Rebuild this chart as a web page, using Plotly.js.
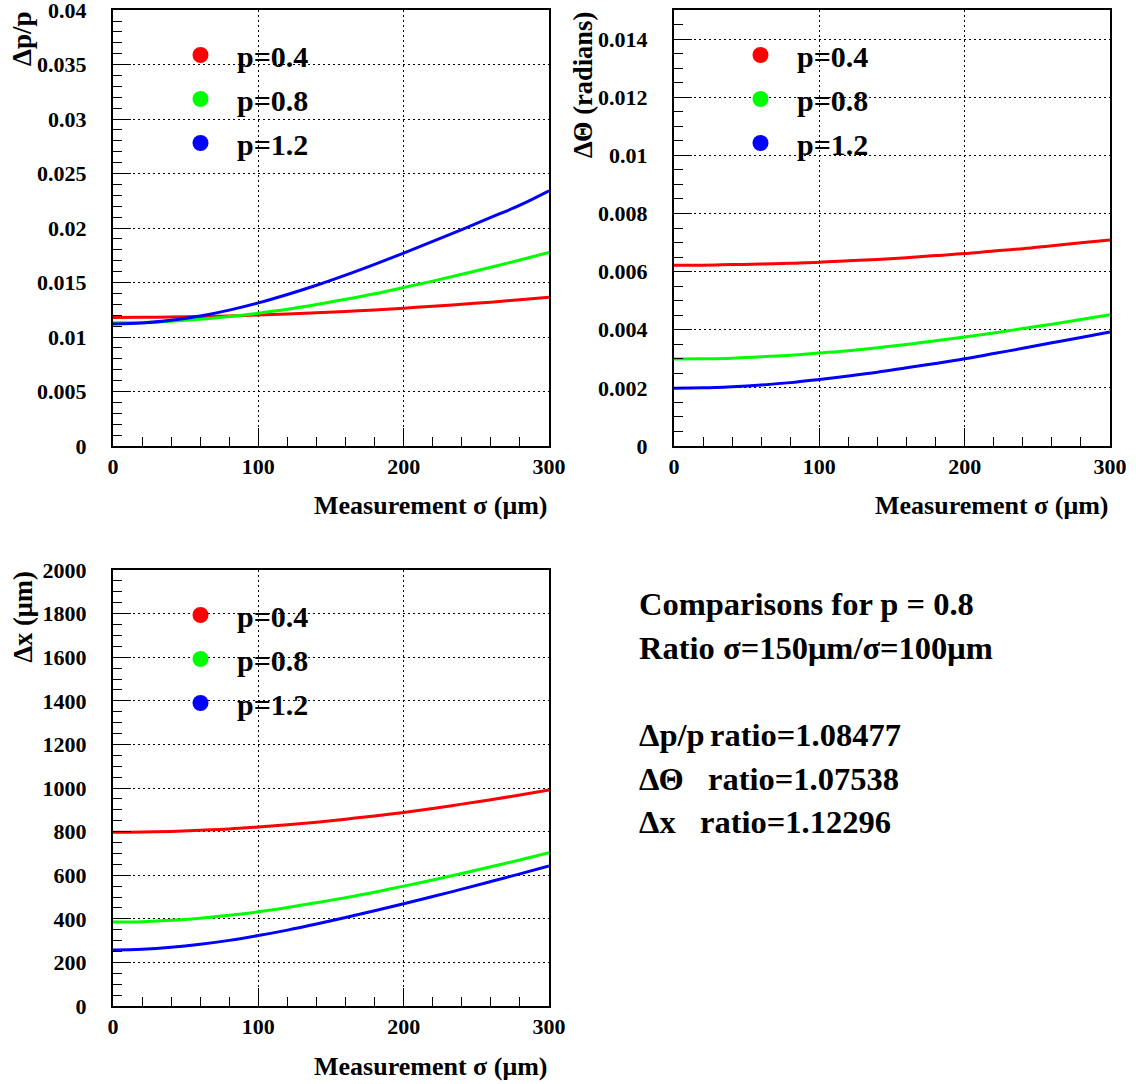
<!DOCTYPE html>
<html><head><meta charset="utf-8">
<script src="https://cdn.plot.ly/plotly-3.0.1.min.js"></script>
<style>html,body{margin:0;padding:0;background:#fff}</style>
</head><body>
<div id="chart" style="width:1136px;height:1084px"></div>
<script>
// ---- data ----
const sigma = [0,20,40,60,80,100,120,140,160,180,200,220,240,260,280,300];
const momentumLabels = ['p=0.4','p=0.8','p=1.2'];

// Δp/p
const dpp_p04 = [0.01180,0.01181,0.01184,0.01188,0.01194,0.01202,0.01211,0.01222,0.01235,0.01249,0.01265,0.01282,0.01301,0.01320,0.01342,0.01364];
const dpp_p08 = [0.01130,0.01134,0.01145,0.01163,0.01188,0.01219,0.01255,0.01298,0.01346,0.01397,0.01454,0.01513,0.01576,0.01640,0.01707,0.01777];
const dpp_p12 = [0.01120,0.01128,0.01153,0.01193,0.01247,0.01313,0.01390,0.01475,0.01568,0.01667,0.01770,0.01877,0.01986,0.02097,0.02210,0.02342];

// ΔΘ (radians)
const dth_p04 = [0.00622,0.00622,0.00624,0.00626,0.00629,0.00632,0.00637,0.00642,0.00648,0.00655,0.00662,0.00671,0.00679,0.00689,0.00699,0.00709];
const dth_p08 = [0.00299,0.00300,0.00302,0.00307,0.00312,0.00320,0.00328,0.00338,0.00349,0.00362,0.00375,0.00389,0.00404,0.00419,0.00435,0.00452];
const dth_p12 = [0.00199,0.00200,0.00204,0.00210,0.00218,0.00229,0.00241,0.00254,0.00269,0.00284,0.00300,0.00318,0.00336,0.00355,0.00373,0.00392];

// Δx (μm)
const dx_p04 = [797,798,801,806,812,821,831,843,857,872,888,906,926,946,968,991];
const dx_p08 = [385,387,393,403,416,432,452,474,497,522,550,578,608,639,670,703];
const dx_p12 = [257,260,269,283,301,323,348,376,406,437,469,502,536,571,606,642];

// text panel
const panelTitle = ['Comparisons for p = 0.8', 'Ratio σ=150μm/σ=100μm'];
const ratioNames = ['Δp/p', 'ΔΘ', 'Δx'];
const ratioValues = ['1.08477', '1.07538', '1.12296'];

const axisTitles = {x: 'Measurement σ (μm)', y1: 'Δp/p', y2: 'ΔΘ (radians)', y3: 'Δx (μm)'};

// ---- styling ----
const W = 1136, H = 1084;
const FONT = 'Liberation Serif';
const colors = ['#ff0000', '#00ff00', '#0000ff'];
const px = v => v / W;
const py = v => 1 - v / H;

function xaxis(domain, anchor) {
  return {
    domain: domain, anchor: anchor, range: [0, 300.01], tick0: 0, dtick: 100,
    ticks: 'inside', ticklen: 18, tickwidth: 1, tickcolor: '#000',
    showline: true, linewidth: 2, linecolor: '#000', mirror: true,
    showgrid: true, gridcolor: '#000', gridwidth: 1, griddash: '2px,3px',
    zeroline: false,
    minor: {dtick: 20, ticks: 'inside', ticklen: 9, tickwidth: 1, tickcolor: '#000', showgrid: false},
    tickfont: {family: FONT, size: 22, weight: 'bold', color: '#000'},
    ticklabelstandoff: 0, ticklabeloverflow: 'allow', fixedrange: true
  };
}
function yaxis(domain, anchor, range, dtick, minorDtick) {
  return {
    domain: domain, anchor: anchor, range: range, tick0: 0, dtick: dtick,
    ticks: 'inside', ticklen: 18, tickwidth: 1, tickcolor: '#000',
    showline: true, linewidth: 2, linecolor: '#000', mirror: true,
    showgrid: true, gridcolor: '#000', gridwidth: 1, griddash: '2px,3px',
    zeroline: false,
    minor: {dtick: minorDtick, ticks: 'inside', ticklen: 9, tickwidth: 1, tickcolor: '#000', showgrid: false},
    tickfont: {family: FONT, size: 22, weight: 'bold', color: '#000'},
    ticklabelstandoff: 20, ticklabeloverflow: 'allow', fixedrange: true
  };
}

const series = [
  {xa: 'x', ya: 'y', leg: 'legend', ys: [dpp_p04, dpp_p08, dpp_p12]},
  {xa: 'x2', ya: 'y2', leg: 'legend2', ys: [dth_p04, dth_p08, dth_p12]},
  {xa: 'x3', ya: 'y3', leg: 'legend3', ys: [dx_p04, dx_p08, dx_p12]}
];

const traces = [];
series.forEach(s => {
  s.ys.forEach((yv, i) => {
    traces.push({x: sigma, y: yv, xaxis: s.xa, yaxis: s.ya, mode: 'lines',
      line: {color: colors[i], width: 3, shape: 'spline'}, showlegend: false, hoverinfo: 'skip'});
  });
  momentumLabels.forEach((name, i) => {
    traces.push({x: [null], y: [null], xaxis: s.xa, yaxis: s.ya, mode: 'markers', name: name,
      marker: {color: colors[i], size: 18}, legend: s.leg, legendgroup: s.leg + '_' + i, showlegend: true});
  });
});

function legendAt(x, y) {
  return {x: px(x), y: py(y), xanchor: 'left', yanchor: 'top', bgcolor: 'rgba(0,0,0,0)',
    borderwidth: 0, font: {family: FONT, size: 30, weight: 'bold', color: '#000'},
    itemwidth: 63, traceorder: 'grouped', tracegroupgap: 2};
}

const annFont = sz => ({family: FONT, size: sz, weight: 'bold', color: '#000'});
const annotations = [
  {text: axisTitles.y1, x: px(22), y: py(10), textangle: -90, xanchor: 'center', yanchor: 'top', font: annFont(27)},
  {text: axisTitles.y2, x: px(583), y: py(10), textangle: -90, xanchor: 'center', yanchor: 'top', font: annFont(26.5)},
  {text: axisTitles.y3, x: px(22), y: py(570), textangle: -90, xanchor: 'center', yanchor: 'top', font: annFont(26.5)},
  {text: axisTitles.x, x: px(549), y: py(505), xanchor: 'right', yanchor: 'middle'},
  {text: axisTitles.x, x: px(1110), y: py(505), xanchor: 'right', yanchor: 'middle'},
  {text: axisTitles.x, x: px(549), y: py(1066), xanchor: 'right', yanchor: 'middle'}
].map(a => Object.assign({xref: 'paper', yref: 'paper', showarrow: false, font: annFont(26)}, a));

const panelY = [604, 648];
panelTitle.forEach((t, i) => annotations.push({text: t, x: px(637), y: py(panelY[i]), xref: 'paper', yref: 'paper',
  xanchor: 'left', yanchor: 'middle', showarrow: false, font: annFont(32.5)}));
const ratioY = [735, 779, 822];
const ratioX = [708, 706, 698];
ratioNames.forEach((n, i) => {
  annotations.push({text: n, x: px(637), y: py(ratioY[i]), xref: 'paper', yref: 'paper',
    xanchor: 'left', yanchor: 'middle', showarrow: false, font: annFont(32.5)});
  annotations.push({text: 'ratio=' + ratioValues[i], x: px(ratioX[i]), y: py(ratioY[i]), xref: 'paper', yref: 'paper',
    xanchor: 'left', yanchor: 'middle', showarrow: false, font: annFont(32.5)});
});

const layout = {
  width: W, height: H, margin: {l: 0, r: 0, t: 0, b: 0},
  paper_bgcolor: '#fff', plot_bgcolor: '#fff', showlegend: true,
  font: {family: FONT, color: '#000'},
  xaxis: xaxis([px(113), px(549)], 'y'),
  yaxis: yaxis([py(446), py(10)], 'x', [0, 0.04001], 0.005, 0.001),
  xaxis2: xaxis([px(674), px(1110)], 'y2'),
  yaxis2: yaxis([py(446), py(10)], 'x2', [0, 0.015], 0.002, 0.0005),
  xaxis3: xaxis([px(113), px(549)], 'y3'),
  yaxis3: yaxis([py(1006), py(570)], 'x3', [0, 2000.1], 200, 50),
  legend: legendAt(164, 29),
  legend2: legendAt(724, 29),
  legend3: legendAt(164, 589),
  annotations: annotations
};

Plotly.newPlot('chart', traces, layout, {staticPlot: true, displayModeBar: false});
</script>
</body></html>
